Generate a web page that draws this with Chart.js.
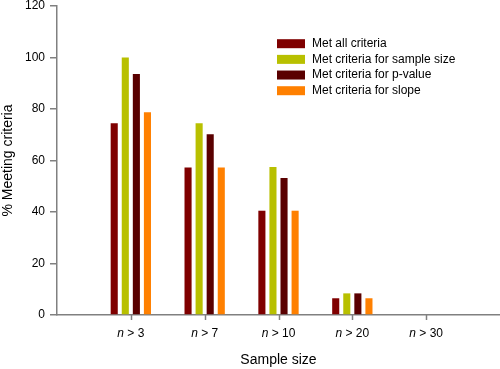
<!DOCTYPE html>
<html>
<head>
<meta charset="utf-8">
<script src="https://cdn.jsdelivr.net/npm/chart.js@4/dist/chart.umd.min.js"></script>
<style>
html,body{margin:0;padding:0;background:#fff;}
#wrap{width:500px;height:369px;position:relative;}
</style>
</head>
<body>
<div id="wrap"><canvas id="c" width="500" height="369"></canvas></div>
<script>
const categories = ['n > 3', 'n > 7', 'n > 10', 'n > 20', 'n > 30'];
const seriesNames = ['Met all criteria', 'Met criteria for sample size', 'Met criteria for p-value', 'Met criteria for slope'];
const metAll = [74.5, 57.3, 40.5, 6.5, 0];
const metSampleSize = [100, 74.5, 57.5, 8.4, 0];
const metPValue = [93.6, 70.2, 53.2, 8.4, 0];
const metSlope = [78.7, 57.3, 40.5, 6.5, 0];
const yTicks = [0, 20, 40, 60, 80, 100, 120];
const colors = ['#7f0000', '#b8c000', '#5a0000', '#ff8000'];

const labels = [''].concat(categories, ['']);
function pad(arr) { return [null].concat(arr, [null]); }
const seriesData = [metAll, metSampleSize, metPValue, metSlope];

const FONT = "'Liberation Sans', Arial, sans-serif";

const legendPlugin = {
  id: 'customLegend',
  afterDraw(chart) {
    const ctx = chart.ctx;
    const x0 = 277, y0 = 43.7, step = 15.67;
    ctx.save();
    ctx.font = '12px ' + FONT;
    ctx.textBaseline = 'middle';
    chart.data.datasets.forEach((ds, i) => {
      const y = y0 + i * step;
      ctx.fillStyle = ds.backgroundColor;
      ctx.fillRect(x0, y - 4.5, 28, 9);
      ctx.fillStyle = '#000';
      ctx.fillText(ds.label, x0 + 35, y);
    });
    ctx.restore();
  }
};

const xLabelPlugin = {
  id: 'italicN',
  afterDraw(chart) {
    const scale = chart.scales.x;
    const ctx = chart.ctx;
    ctx.save();
    ctx.textBaseline = 'middle';
    ctx.fillStyle = '#000';
    categories.forEach((lab, i) => {
      const x = scale.getPixelForValue(i + 1);
      // tick mark
      ctx.strokeStyle = '#808080';
      ctx.lineWidth = 1.5;
      ctx.beginPath();
      ctx.moveTo(Math.round(x) + 0.5, scale.top);
      ctx.lineTo(Math.round(x) + 0.5, scale.top + 5);
      ctx.stroke();
      // label with italic n
      const first = lab.charAt(0);
      const rest = lab.slice(1);
      ctx.font = 'italic 12px ' + FONT;
      const w1 = ctx.measureText(first).width;
      ctx.font = '12px ' + FONT;
      const w2 = ctx.measureText(rest).width;
      const start = x - (w1 + w2) / 2;
      const y = scale.top + 19;
      ctx.font = 'italic 12px ' + FONT;
      ctx.textAlign = 'left';
      ctx.fillText(first, start, y);
      ctx.font = '12px ' + FONT;
      ctx.fillText(rest, start + w1, y);
    });
    ctx.restore();
  }
};

new Chart(document.getElementById('c'), {
  type: 'bar',
  data: {
    labels: labels,
    datasets: seriesNames.map((name, i) => ({
      label: name,
      data: pad(seriesData[i]),
      backgroundColor: colors[i],
      borderWidth: 0,
      categoryPercentage: 0.6,
      barPercentage: 0.64
    }))
  },
  options: {
    responsive: false,
    animation: false,
    devicePixelRatio: 1,
    layout: { padding: { top: 0, right: 0, left: 0, bottom: 0 } },
    plugins: { legend: { display: false }, tooltip: { enabled: false } },
    scales: {
      x: {
        offset: false,
        grid: { offset: false, display: true, drawOnChartArea: false, drawTicks: false },
        border: { color: '#808080', width: 1.5 },
        ticks: { display: true, color: 'rgba(0,0,0,0)', callback: () => '', autoSkip: false, maxRotation: 0 },
        title: { display: true, text: 'Sample size', color: '#000', font: { size: 14, family: FONT }, padding: { top: 0, bottom: 0 } },
        afterFit(s) { s.height = 54; s.paddingLeft = 0; s.paddingRight = 0; }
      },
      y: {
        min: 0, max: 120,
        afterBuildTicks(s) { s.ticks = yTicks.map(v => ({ value: v })); },
        grid: { drawOnChartArea: false, drawTicks: true, tickLength: 7, tickColor: '#808080', lineWidth: 1.5 },
        border: { color: '#808080', width: 1.5 },
        ticks: { color: '#000', font: { size: 12, family: FONT }, padding: 5 },
        title: { display: true, text: '% Meeting criteria', color: '#000', font: { size: 14, family: FONT }, padding: { top: 0, bottom: 0 } },
        afterFit(s) { s.width = 57; s.paddingTop = 6; s.paddingBottom = 0; }
      }
    }
  },
  plugins: [legendPlugin, xLabelPlugin]
});
</script>
</body>
</html>
